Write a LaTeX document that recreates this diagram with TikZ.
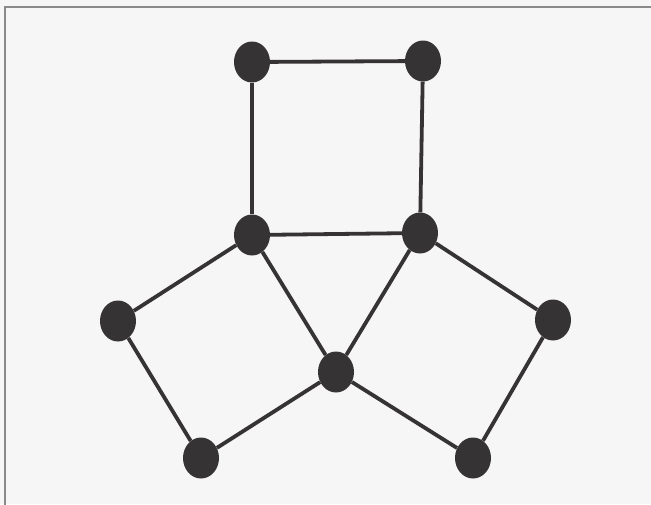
\documentclass[tikz,border=0pt]{standalone}
\usetikzlibrary{shapes.geometric}
\definecolor{ink}{HTML}{363334}
\definecolor{paper}{HTML}{F6F6F6}
\definecolor{frame}{HTML}{8A8A8A}
\begin{document}
\begin{tikzpicture}[x=1pt,y=-1pt,
  vtx/.style={ellipse,fill=ink,minimum width=36pt,minimum height=41pt,inner sep=0pt},
  edge/.style={draw=ink,line width=3.8pt}]
\useasboundingbox (0,0) rectangle (651,504);
\fill[paper] (0,0) rectangle (651,504);
\draw[frame,line width=1.2pt] (5,515) -- (5,7) -- (660,7);
\node[vtx] (A) at (252,62) {};
\node[vtx] (B) at (423,61) {};
\node[vtx] (C) at (252,235) {};
\node[vtx] (D) at (420,233) {};
\node[vtx] (E) at (118,321) {};
\node[vtx] (F) at (553,320) {};
\node[vtx] (G) at (336,372) {};
\node[vtx] (H) at (201,458) {};
\node[vtx] (I) at (473,458) {};
\draw[edge] (A) -- (B);
\draw[edge] (A) -- (C);
\draw[edge] (B) -- (D);
\draw[edge] (C) -- (D);
\draw[edge] (C) -- (E);
\draw[edge] (C) -- (G);
\draw[edge] (D) -- (G);
\draw[edge] (D) -- (F);
\draw[edge] (E) -- (H);
\draw[edge] (H) -- (G);
\draw[edge] (G) -- (I);
\draw[edge] (F) -- (I);
\end{tikzpicture}
\end{document}
